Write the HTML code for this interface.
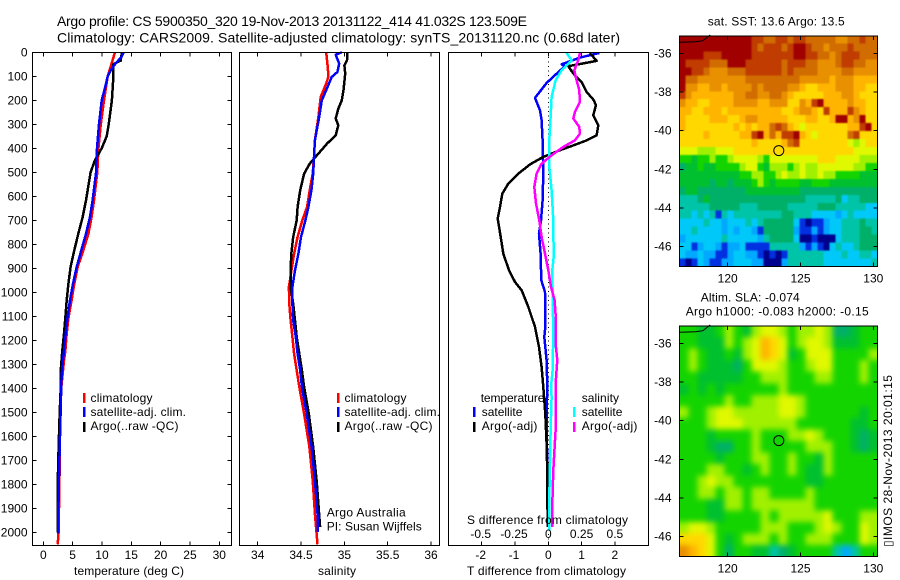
<!DOCTYPE html>
<html lang="en">
<head>
<meta charset="utf-8">
<title>Argo profile chart</title>
<style>
html,body{margin:0;padding:0;background:#fff;width:900px;height:580px;overflow:hidden}
svg{display:block}
text{font-family:"Liberation Sans",sans-serif;font-size:12px;fill:#000}
</style>
</head>
<body>
<svg id="chart" xmlns="http://www.w3.org/2000/svg" width="900" height="580" viewBox="0 0 900 580">
  <defs>
    <clipPath id="clip-sst"><rect x="679.5" y="35.5" width="198" height="231"/></clipPath>
    <clipPath id="clip-sla"><rect x="679.5" y="325.5" width="198" height="231"/></clipPath>
  </defs>
  <text x="57" y="26" style="font-size:14px" textLength="470">Argo profile: CS 5900350_320 19-Nov-2013 20131122_414 41.032S 123.509E</text>
  <text x="57" y="42.5" style="font-size:14px" textLength="563">Climatology: CARS2009. Satellite-adjusted climatology: synTS_20131120.nc (0.68d later)</text>

  <g clip-path="url(#clip-sst)"><g id="layer-sst-map" style="filter:blur(0.8px)"></g></g>
  <g clip-path="url(#clip-sla)"><g id="layer-sla-map" style="filter:blur(3px)"></g></g>
  <g id="layer-overlay"></g>

  <text x="74" y="575" textLength="110">temperature (deg C)</text>
  <text x="318" y="575" textLength="38">salinity</text>
  <text x="467" y="575" textLength="159">T difference from climatology</text>
  <text x="467" y="524" textLength="161">S difference from climatology</text>

  <text x="90.5" y="402" textLength="62">climatology</text>
  <text x="90.5" y="416" textLength="95.5">satellite-adj. clim.</text>
  <text x="90.5" y="430" textLength="88">Argo(..raw -QC)</text>
  <rect x="83" y="393" width="2.5" height="10" fill="#f00"/>
  <rect x="83" y="407" width="2.5" height="10" fill="#00f"/>
  <rect x="83" y="422" width="2.5" height="10" fill="#000"/>

  <text x="344.5" y="402" textLength="62">climatology</text>
  <text x="344.5" y="416" textLength="95.5">satellite-adj. clim.</text>
  <text x="344.5" y="430" textLength="88">Argo(..raw -QC)</text>
  <rect x="337" y="393" width="2.5" height="10" fill="#f00"/>
  <rect x="337" y="407" width="2.5" height="10" fill="#00f"/>
  <rect x="337" y="422" width="2.5" height="10" fill="#000"/>
  <text x="326.7" y="516.5" textLength="79">Argo Australia</text>
  <text x="326.7" y="530.5" textLength="95">PI: Susan Wijffels</text>

  <text x="480.7" y="402" textLength="63.7">temperature</text>
  <text x="481.7" y="416" textLength="40.7">satellite</text>
  <text x="481.7" y="430" textLength="55.7">Argo(-adj)</text>
  <rect x="473" y="407" width="2.5" height="10" fill="#00f"/>
  <rect x="473" y="422" width="2.5" height="10" fill="#000"/>
  <text x="581.7" y="402" textLength="37.3">salinity</text>
  <text x="581.7" y="416" textLength="40.7">satellite</text>
  <text x="581.7" y="430" textLength="55.7">Argo(-adj)</text>
  <rect x="573" y="407" width="2.5" height="10" fill="#0ff"/>
  <rect x="573" y="422" width="2.5" height="10" fill="#f0f"/>

  <text x="707.7" y="25.5" textLength="137">sat. SST: 13.6 Argo: 13.5</text>
  <text x="700.7" y="301.5" textLength="99">Altim. SLA: -0.074</text>
  <text x="685.7" y="315.5" textLength="183">Argo h1000: -0.083 h2000: -0.15</text>
  <text transform="translate(892 547) rotate(-90)" textLength="172">▯IMOS 28-Nov-2013 20:01:15</text>
</svg>
<script>
// ---------- tick labels ----------
const depthTicks = [0,100,200,300,400,500,600,700,800,900,1000,1100,1200,1300,1400,1500,1600,1700,1800,1900,2000];
const temperatureTicks = [0,5,10,15,20,25,30];
const salinityTicks = [34,34.5,35,35.5,36];
const tDiffTicks = [-2,-1,0,1,2];
const sDiffTicks = [-0.5,-0.25,0,0.25,0.5];
const lonTicks = [120,125,130];
const latTicks = [-36,-38,-40,-42,-44,-46];

// ---------- temperature panel (depth m, deg C) ----------
const tempClimDepths = [0,50,100,200,300,400,500,617,686,756,825,894,964,1033,1103,1172,1242,1284,1400,1600,1800,2000,2050];
const tempClimValues = [12.2,11.6,10.97,10.35,9.8,9.4,9.2,8.64,8.24,7.68,6.82,5.86,5.29,4.83,4.32,3.98,3.76,3.53,3.05,2.85,2.75,2.6,2.45];
const tempSatDepths = [0,20,50,75,100,150,200,300,400,500,617,686,756,825,894,964,1033,1103,1172,1242,1311,1381,1500,1600,1700,1800,1900,2004];
const tempSatValues = [13.7,13.3,12.2,11.5,10.97,10.5,9.95,9.5,9.15,9.0,8.41,7.96,7.28,6.48,5.69,5.06,4.55,4.15,3.81,3.53,3.24,3.07,2.95,2.85,2.75,2.65,2.58,2.52];
const tempArgoDepths = [0,35,40,50,100,200,300,350,400,450,500,617,686,756,825,894,964,1033,1103,1172,1242,1311,1381,1500,1650,1800,2000];
const tempArgoValues = [13.4,13.2,12.7,11.95,11.95,11.7,11.15,10.8,9.95,8.8,8.07,7.28,6.71,5.97,5.29,4.66,4.27,3.98,3.76,3.53,3.24,3.02,3.0,2.8,2.6,2.45,2.5];

// ---------- salinity panel ----------
const salClimDepths = [0,68,103,130,186,269,367,436,506,575,644,700,769,839,908,978,1047,1117,1186,1256,1325,1394,1506,1645,1783,1922,2050];
const salClimValues = [34.79,34.81,34.815,34.79,34.727,34.7,34.66,34.65,34.635,34.6,34.57,34.515,34.46,34.42,34.39,34.36,34.365,34.38,34.4,34.42,34.45,34.48,34.535,34.596,34.635,34.66,34.69];
const salSatDepths = [0,10,47,82,103,158,200,269,367,436,506,575,644,700,769,839,908,978,1047,1117,1186,1256,1325,1394,1506,1645,1783,1922,1999];
const salSatValues = [34.97,34.9,34.94,34.92,34.854,34.79,34.74,34.71,34.66,34.65,34.64,34.62,34.585,34.55,34.5,34.47,34.43,34.4,34.4,34.41,34.44,34.46,34.49,34.51,34.565,34.623,34.66,34.69,34.696];
const salArgoDepths = [0,33,54,89,158,200,235,276,304,346,381,422,464,506,575,644,700,769,839,908,978,1047,1117,1186,1256,1325,1394,1506,1645,1783,1922,1978];
const salArgoValues = [35.035,35.03,35,35.01,34.99,34.97,34.93,34.9,34.93,34.9,34.8,34.7,34.6,34.535,34.49,34.46,34.45,34.41,34.388,34.38,34.38,34.41,34.43,34.45,34.48,34.51,34.535,34.59,34.64,34.68,34.708,34.72];

// ---------- difference panel ----------
const tDiffSatDepths = [3,22,50,58,89,128,190,242,283,367,506,617,700,756,839,950,999,1144,1186,1283,1394,1506,1756,1978];
const tDiffSatValues = [1.53,0.95,0.4,0.5,0.25,-0.05,-0.4,-0.25,-0.2,-0.17,-0.15,-0.17,-0.22,-0.28,-0.23,-0.21,-0.1,-0.09,-0.12,-0.05,-0.03,-0.05,-0.03,-0.02];
const tDiffArgoDepths = [3,36,58,78,96,124,165,200,221,262,304,346,367,388,408,436,467,506,547,589,644,693,769,839,908,957,992,1061,1144,1228,1311,1394,1506,1631,1756,1978];
const tDiffArgoValues = [1.25,1.45,0.6,0.7,0.8,1.0,1.15,1.37,1.43,1.35,1.5,1.45,1.15,0.75,0.35,-0.15,-0.55,-0.9,-1.2,-1.38,-1.45,-1.52,-1.43,-1.35,-1.18,-1.0,-0.8,-0.6,-0.4,-0.28,-0.2,-0.15,-0.09,-0.05,-0.03,-0.02];
const sDiffSatDepths = [3,33,75,117,186,269,367,478,575,700,769,839,908,1006,1172,1325,1394,1436,1575,1714,1853,1992];
const sDiffSatValues = [0.1375,0.175,0.1,0.055,0.025,0.0175,0.0075,0.0075,0.025,0.0375,0.0375,0.0425,0.03,0.0325,0.0375,0.0325,0.02,0.025,0.0175,0.0125,0.0075,0.0075];
const sDiffArgoDepths = [3,33,75,117,158,207,249,276,311,339,367,394,429,464,506,561,630,700,769,839,908,978,1033,1117,1214,1283,1380,1464,1575,1645,1742,1881,1978];
const sDiffArgoValues = [0.2375,0.225,0.195,0.2125,0.2325,0.2375,0.2,0.1875,0.2325,0.2375,0.2,0.1125,0.025,-0.05,-0.0875,-0.105,-0.0925,-0.0675,-0.05,-0.025,0,0.02,0.0475,0.0575,0.055,0.0675,0.055,0.055,0.055,0.0475,0.0375,0.03,0.03];

// ---------- maps ----------
const coastLons = [116.7,117.8,118.3,118.8];
const coastLats = [-35.43,-35.4,-35.35,-35.05];
const argoLon = 123.509;
const argoLat = -41.032;

// SST colour level per cell (north to south, west to east)
const sstLevels = [
[15,15,15,15,15,15,15,15,15,15,15,15,14,14,13,13,14,14,13,14,14,13,13,13,13,13,12,12,13,13,14,13,13],
[15,15,15,15,15,15,15,15,15,15,15,15,14,13,14,14,14,13,14,15,15,14,13,13,12,13,13,13,14,13,13,13,13],
[15,15,15,15,14,14,14,15,15,15,15,15,14,14,14,14,14,14,14,15,15,14,14,13,13,12,13,14,14,14,13,13,13],
[15,14,14,14,14,13,13,13,15,15,15,14,14,14,14,14,14,13,14,14,14,13,13,12,12,12,13,14,14,13,13,12,12],
[15,15,14,14,13,12,12,12,13,13,13,14,14,14,14,14,14,13,14,13,13,13,13,12,12,12,12,13,13,12,12,12,12],
[15,13,13,12,12,12,12,12,12,12,12,13,13,13,13,13,13,13,13,13,12,12,12,12,12,11,12,12,12,11,11,11,11],
[15,12,12,11,11,12,12,11,12,12,12,12,13,12,13,13,13,13,12,12,11,10,10,11,11,11,12,12,12,11,11,10,10],
[14,12,11,11,11,11,11,11,11,12,12,13,13,12,12,13,13,12,11,10,10,10,10,10,11,11,11,12,12,11,10,10,10],
[12,11,11,10,10,11,11,11,11,12,12,12,12,11,11,12,12,12,10,10,12,11,14,15,11,11,11,11,12,11,11,10,10],
[11,11,10,10,11,11,11,10,11,11,11,11,11,11,11,11,11,10,10,11,12,12,11,10,14,11,11,11,14,12,11,10,10],
[11,10,10,10,10,11,11,11,10,10,11,12,12,11,11,11,11,11,10,10,10,11,11,10,10,11,15,15,11,12,15,10,10],
[11,10,10,10,10,10,10,10,10,11,10,11,10,11,11,13,14,13,11,10,9,10,10,10,10,10,10,10,11,11,14,15,10],
[10,10,10,10,11,10,10,10,10,10,11,11,14,15,11,13,11,14,14,15,11,10,9,10,10,10,10,10,13,14,10,10,10],
[10,10,10,10,10,10,10,10,10,10,10,10,11,10,10,10,10,11,13,14,10,10,10,10,10,10,10,10,9,8,9,10,10],
[9,9,9,8,8,8,9,9,9,10,10,10,10,10,10,10,10,10,10,10,10,10,10,10,10,10,10,10,10,9,9,9,9],
[7,7,6,7,7,8,7,7,8,9,9,9,9,8,7,9,9,9,9,9,9,9,9,10,10,10,9,9,9,9,8,8,8],
[5,6,6,7,6,6,7,7,7,7,8,9,9,7,6,8,8,8,7,8,9,8,8,9,9,9,9,9,9,8,8,7,7],
[6,6,6,6,6,6,6,6,6,6,7,7,8,8,7,7,8,9,8,8,9,8,8,9,8,8,7,7,7,7,6,6,6],
[6,6,6,6,6,5,6,6,5,6,6,6,7,8,7,6,7,7,7,7,6,6,7,7,7,6,6,6,6,6,6,6,6],
[5,6,6,5,5,5,5,5,5,5,5,6,6,6,6,6,6,6,6,6,5,5,5,5,5,5,5,5,5,5,5,5,5],
[4,4,4,5,6,5,5,5,5,5,5,5,5,5,5,5,5,5,5,5,5,4,4,4,4,4,5,3,4,4,5,5,5],
[4,4,4,4,4,5,5,5,5,5,4,4,4,5,5,5,5,5,4,4,4,4,4,5,5,5,4,4,4,4,4,3,3],
[4,4,3,4,3,4,1,4,3,4,4,4,4,4,4,4,4,5,5,4,4,4,3,3,3,3,2,3,4,3,3,3,3],
[3,3,3,3,4,3,3,2,3,3,3,4,3,4,5,5,5,5,5,3,1,0,1,1,2,3,3,4,4,4,5,4,4],
[3,3,4,3,3,3,3,2,3,2,3,3,2,1,5,5,5,5,5,2,1,1,2,1,2,3,3,4,4,4,5,5,4],
[2,3,3,3,3,3,3,4,3,3,3,3,3,2,4,5,5,5,5,3,0,0,1,0,0,0,3,4,4,4,5,5,5],
[3,3,1,2,3,3,2,1,2,2,3,1,1,1,1,4,4,4,4,4,2,1,2,1,0,3,4,3,3,4,5,5,5],
[3,2,2,3,2,2,1,1,2,3,3,2,2,1,0,1,0,1,4,4,4,4,4,4,3,3,3,4,3,3,4,4,3],
[1,0,1,3,2,1,1,2,2,3,3,3,2,2,0,0,0,2,4,4,4,4,4,4,3,3,3,3,3,3,3,3,4]
];

// SLA colour level per cell (north to south, west to east)
const slaLevels = [
[7,7,6,6,7,8,7,6,8,9,9,8,7,8,8,9,8,5,5,6,7,7],
[7,7,6,6,6,8,7,8,9,11,10,9,7,8,9,9,8,6,6,6,7,7],
[7,8,7,6,6,7,6,8,9,11,10,9,6,7,9,9,9,7,7,7,7,8],
[7,8,7,6,6,6,5,7,9,9,9,8,7,7,8,9,9,7,7,7,8,7],
[7,7,6,6,6,6,6,7,7,8,8,8,7,7,7,8,8,7,7,7,8,7],
[6,7,6,7,6,7,7,7,7,7,7,8,7,7,7,7,7,7,7,7,7,7],
[7,7,7,7,7,8,7,7,8,8,8,9,9,8,7,7,7,7,7,7,7,7],
[8,7,7,8,9,9,8,8,8,8,8,9,9,8,7,7,7,7,7,7,6,7],
[7,7,7,8,9,9,9,8,8,8,8,8,8,7,7,7,7,7,7,6,6,7],
[7,7,7,6,7,7,7,7,8,7,7,7,8,8,9,8,7,7,7,6,5,6],
[7,7,7,6,5,5,7,7,8,7,7,7,7,7,8,8,8,7,7,6,5,6],
[7,7,7,7,6,7,7,7,8,8,7,7,8,7,7,6,8,7,7,7,7,7],
[7,7,7,8,8,7,7,6,7,8,7,7,8,7,6,6,8,7,7,7,7,7],
[7,7,8,9,8,8,7,7,7,7,7,7,7,7,6,6,7,7,7,7,7,7],
[7,7,8,8,7,8,8,7,8,8,7,7,7,7,8,7,7,7,7,7,7,7],
[7,7,7,6,6,8,8,7,8,8,8,8,8,8,8,7,7,7,7,7,7,7],
[7,7,7,6,6,7,7,7,7,8,7,8,8,8,8,8,9,7,7,7,8,8],
[8,9,9,8,7,7,7,7,7,8,8,8,7,7,7,8,9,8,7,7,9,8],
[10,10,10,9,7,6,7,8,8,8,7,8,7,7,8,8,8,7,7,7,9,8],
[12,11,10,9,7,5,7,7,6,6,4,5,6,7,7,7,7,4,2,4,7,7]
];

// ---------- drawing ----------
const SVGNS = 'http://www.w3.org/2000/svg';
const overlay = document.getElementById('layer-overlay');
const palette = ['#00008c','#0030e0','#00a8ff','#00c8f8','#00c4a8','#00b068','#00c030','#14d400','#a0f000','#e0f800','#ffd800','#ffb400','#e89000','#d06c00','#c03c00','#a00000'];

function make(tag, name, props, parent) {
  const el = document.createElementNS(SVGNS, tag);
  
  
  for (const key in props) { el.setAttribute(key, props[key]); }
  (parent || overlay).appendChild(el);
  return el;
}
function label(name, text, x, y, anchor) {
  const el = make('text', name, {x: x, y: y, 'text-anchor': anchor || 'middle'});
  el.textContent = text;
  return el;
}
function depthY(d) { return 52.3 + 0.24 * d; }
function tempX(t) { return 43.3 + 5.867 * t; }
function salX(s) { return 257.7 + 86.67 * (s - 34); }
function tDiffX(v) { return 548.3 + 33.3 * v; }
function sDiffX(v) { return 548.3 + 133.2 * v; }
function lonX(lon) { return 727.7 + 14.56 * (lon - 120); }
function latY(lat, top) { return top + 19.33 * (-36 - lat); }

function curve(name, depths, values, xFn, color) {
  const pts = depths.map(function (d, i) { return xFn(values[i]).toFixed(1) + ',' + depthY(d).toFixed(1); }).join(' ');
  make('polyline', name, {points: pts, fill: 'none', stroke: color, 'stroke-width': 2.5, 'stroke-linejoin': 'round', 'shape-rendering': 'crispEdges'});
}
function frame(name, x0, y0, x1, y1) {
  make('rect', name, {x: x0, y: y0, width: x1 - x0, height: y1 - y0, fill: 'none', stroke: '#000', 'stroke-width': 1, 'shape-rendering': 'crispEdges'});
}
function vTick(name, x, y0, y1) {
  make('line', name, {x1: x, x2: x, y1: y0, y2: y1, stroke: '#000', 'stroke-width': 1, 'shape-rendering': 'crispEdges'});
}
function hTick(name, y, x0, x1) {
  make('line', name, {x1: x0, x2: x1, y1: y, y2: y, stroke: '#000', 'stroke-width': 1, 'shape-rendering': 'crispEdges'});
}

// heat maps
function drawCells(layerId, cellName, levels, x0, y0, w, h) {
  const layer = document.getElementById(layerId);
  levels.forEach(function (row, r) {
    row.forEach(function (level, c) {
      let x = x0 + c * w, y = y0 + r * h, cw = w + 0.5, ch = h + 0.5;
      if (c === 0) { x -= 12; cw += 12; }
      if (c === row.length - 1) { cw += 12; }
      if (r === 0) { y -= 12; ch += 12; }
      if (r === levels.length - 1) { ch += 12; }
      make('rect', cellName, {x: x, y: y, width: cw, height: ch, fill: palette[level], 'shape-rendering': 'crispEdges'}, layer);
    });
  });
}
drawCells('layer-sst-map', 'sst-cell', sstLevels, 679.5, 35.5, 198 / sstLevels[0].length, 231 / sstLevels.length);
drawCells('layer-sla-map', 'sla-cell', slaLevels, 679.5, 325.5, 198 / slaLevels[0].length, 231 / slaLevels.length);

// profile series
curve('temperature-climatology-line', tempClimDepths, tempClimValues, tempX, '#f00');
curve('temperature-argo-line', tempArgoDepths, tempArgoValues, tempX, '#000');
curve('temperature-satellite-line', tempSatDepths, tempSatValues, tempX, '#00f');
curve('salinity-climatology-line', salClimDepths, salClimValues, salX, '#f00');
curve('salinity-argo-line', salArgoDepths, salArgoValues, salX, '#000');
curve('salinity-satellite-line', salSatDepths, salSatValues, salX, '#00f');
make('line', 'zero-difference-line', {x1: tDiffX(0), x2: tDiffX(0), y1: 52.5, y2: 545.5, stroke: '#000', 'stroke-width': 1, 'stroke-dasharray': '1 3.5', 'shape-rendering': 'crispEdges'});
curve('t-difference-satellite-line', tDiffSatDepths, tDiffSatValues, tDiffX, '#00f');
curve('t-difference-argo-line', tDiffArgoDepths, tDiffArgoValues, tDiffX, '#000');
curve('s-difference-satellite-line', sDiffSatDepths, sDiffSatValues, sDiffX, '#0ff');
curve('s-difference-argo-line', sDiffArgoDepths, sDiffArgoValues, sDiffX, '#f0f');

// profile axes
frame('temperature-panel-frame', 32.5, 52.5, 231.5, 545.5);
frame('salinity-panel-frame', 239.5, 52.5, 439.5, 545.5);
frame('difference-panel-frame', 448.5, 52.5, 648.5, 545.5);
depthTicks.forEach(function (d) {
  const y = depthY(d);
  hTick('depth-tick-left', y, 32.5, 36.5);
  hTick('depth-tick-right', y, 227.5, 231.5);
  label('depth-tick-label', String(d), 27.5, y + 4, 'end');
});
temperatureTicks.forEach(function (t) {
  const x = tempX(t);
  vTick('temperature-tick-top', x, 52.5, 56.5);
  vTick('temperature-tick-bottom', x, 541.5, 545.5);
  label('temperature-tick-label', String(t), x, 559);
});
salinityTicks.forEach(function (s) {
  const x = salX(s);
  vTick('salinity-tick-top', x, 52.5, 56.5);
  vTick('salinity-tick-bottom', x, 541.5, 545.5);
  label('salinity-tick-label', String(s), x, 559);
});
tDiffTicks.forEach(function (v) {
  const x = tDiffX(v);
  vTick('t-difference-tick-top', x, 52.5, 56.5);
  vTick('t-difference-tick-bottom', x, 541.5, 545.5);
  label('t-difference-tick-label', String(v), x - (v < 0 ? 1 : 0), 559);
});
sDiffTicks.forEach(function (v) {
  label('s-difference-tick-label', String(v), sDiffX(v) - (v < 0 ? 1 : 0), 538);
});

// map furniture
function mapAxes(prefix, top, bottom) {
  const mapTop = top - 18;
  frame(prefix + '-map-frame', 679.5, mapTop + 0.5, 877.5, bottom + 0.5);
  const coast = coastLons.map(function (lon, i) { return lonX(lon).toFixed(1) + ',' + latY(coastLats[i], top).toFixed(1); }).join(' ');
  make('polyline', prefix + '-coastline', {points: coast, fill: 'none', stroke: '#000', 'stroke-width': 1});
  lonTicks.forEach(function (lon) {
    const x = lonX(lon);
    vTick(prefix + '-lon-tick-top', x, mapTop + 0.5, mapTop + 4.5);
    vTick(prefix + '-lon-tick-bottom', x, bottom - 3.5, bottom + 0.5);
    label(prefix + '-lon-tick-label', String(lon), x, bottom + 16.5);
  });
  latTicks.forEach(function (lat) {
    const y = latY(lat, top);
    hTick(prefix + '-lat-tick-left', y, 679.5, 683.5);
    hTick(prefix + '-lat-tick-right', y, 873.5, 877.5);
    label(prefix + '-lat-tick-label', '-' + Math.abs(lat), 671.5, y + 4, 'end');
  });
  make('circle', prefix + '-argo-position-marker', {cx: lonX(argoLon), cy: latY(argoLat, top), r: 5, fill: 'none', stroke: '#000', 'stroke-width': 1});
}
mapAxes('sst', 53.3, 266);
mapAxes('sla', 343.3, 556);
</script>
</body>
</html>
